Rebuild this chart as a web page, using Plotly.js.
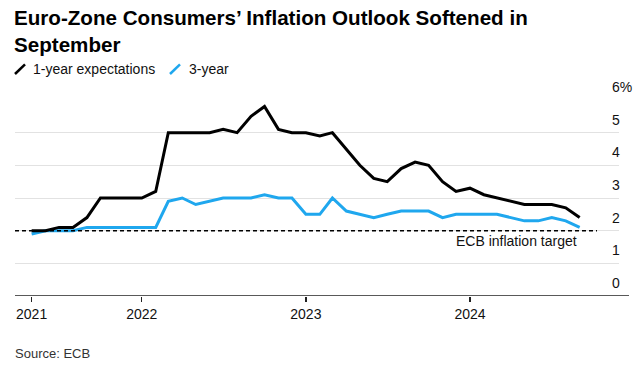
<!DOCTYPE html>
<html>
<head>
<meta charset="utf-8">
<script src="https://cdn.plot.ly/plotly-3.0.1.min.js"></script>
<style>html,body{margin:0;padding:0;background:#fff}#chart{width:642px;height:370px}</style>
</head>
<body>
<div id="chart"></div>
<script>
const months = [
  '2021-05-01','2021-06-01','2021-07-01','2021-08-01','2021-09-01','2021-10-01','2021-11-01','2021-12-01',
  '2022-01-01','2022-02-01','2022-03-01','2022-04-01','2022-05-01','2022-06-01','2022-07-01','2022-08-01',
  '2022-09-01','2022-10-01','2022-11-01','2022-12-01',
  '2023-01-01','2023-02-01','2023-03-01','2023-04-01','2023-05-01','2023-06-01','2023-07-01','2023-08-01',
  '2023-09-01','2023-10-01','2023-11-01','2023-12-01',
  '2024-01-01','2024-02-01','2024-03-01','2024-04-01','2024-05-01','2024-06-01','2024-07-01','2024-08-01',
  '2024-09-01'
];
const oneYear = [
  2.0, 2.0, 2.1, 2.1, 2.4, 3.0, 3.0, 3.0,
  3.0, 3.2, 5.0, 5.0, 5.0, 5.0, 5.1, 5.0,
  5.5, 5.8, 5.1, 5.0,
  5.0, 4.9, 5.0, 4.5, 4.0, 3.6, 3.5, 3.9,
  4.1, 4.0, 3.5, 3.2,
  3.3, 3.1, 3.0, 2.9, 2.8, 2.8, 2.8, 2.7,
  2.4
];
const threeYear = [
  1.9, 2.0, 2.0, 2.0, 2.1, 2.1, 2.1, 2.1,
  2.1, 2.1, 2.9, 3.0, 2.8, 2.9, 3.0, 3.0,
  3.0, 3.1, 3.0, 3.0,
  2.5, 2.5, 3.0, 2.6, 2.5, 2.4, 2.5, 2.6,
  2.6, 2.6, 2.4, 2.5,
  2.5, 2.5, 2.5, 2.4, 2.3, 2.3, 2.4, 2.3,
  2.1
];
const ecbTarget = 2;
const seriesNames = ['1-year expectations', '3-year'];
const xTickVals = ['2021-05-01', '2022-01-01', '2023-01-01', '2024-01-01'];
const xTickText = ['2021', '2022', '2023', '2024'];
const yTickVals = [0, 1, 2, 3, 4, 5, 6];
const yTickText = ['0', '1', '2', '3', '4', '5', '6%'];
const titleText = 'Euro-Zone Consumers\u2019 Inflation Outlook Softened in<br>September';
const sourceText = 'Source: ECB';
const targetLabel = 'ECB inflation target';

const BLACK = '#000000';
const BLUE = '#1fa7ee';
const FONT = 'Liberation Sans, Arial, sans-serif';

const traces = [
  {x: months, y: threeYear, name: seriesNames[1], type: 'scatter', mode: 'lines',
   line: {color: BLUE, width: 3}, showlegend: false},
  {x: months, y: oneYear, name: seriesNames[0], type: 'scatter', mode: 'lines',
   line: {color: BLACK, width: 3}, showlegend: false}
];

const W = 642, H = 370, L = 15, R = 23, T = 100, B = 74;
const pw = W - L - R, ph = H - T - B;
const px = v => (v - L) / pw;
const py = v => (H - B - v) / ph;

const layout = {
  width: W, height: H,
  margin: {l: L, r: R, t: T, b: B, pad: 0},
  paper_bgcolor: '#fff', plot_bgcolor: '#fff',
  font: {family: FONT, size: 14, color: '#111'},
  title: {
    text: '<b>' + titleText + '</b>',
    font: {family: FONT, size: 20.6, color: '#000'},
    xref: 'container', yref: 'container',
    x: 14 / W, xanchor: 'left',
    y: 1 - 8 / H, yanchor: 'top',
    pad: {t: 17}
  },
  xaxis: {
    type: 'date',
    range: ['2021-03-25', '2024-11-27 12:00'],
    tickvals: xTickVals, ticktext: xTickText,
    ticks: 'outside', ticklen: 5, tickwidth: 1.3, tickcolor: '#222',
    showgrid: false, showline: false, zeroline: false,
    tickfont: {family: FONT, size: 14, color: '#111'},
    fixedrange: true
  },
  yaxis: {
    range: [0, 6],
    tickvals: yTickVals, ticktext: yTickText,
    side: 'right', anchor: 'free', position: px(611),
    ticks: '', showline: false, zeroline: false,
    showgrid: true, gridcolor: '#e2e2e2', gridwidth: 1,
    ticklabelposition: 'outside',
    ticklabelshift: -13,
    tickfont: {family: FONT, size: 14, color: '#111'},
    fixedrange: true
  },
  shapes: [
    {type: 'line', xref: 'paper', yref: 'y', x0: 0, x1: px(597), y0: ecbTarget, y1: ecbTarget,
     line: {color: '#000', width: 1.5, dash: '4px,3px'}},
    {type: 'line', xref: 'paper', yref: 'y', x0: 0, x1: px(629), y0: 0, y1: 0,
     line: {color: '#222', width: 1.3}},
    {type: 'line', xref: 'paper', yref: 'paper', x0: px(15), y0: py(74), x1: px(25), y1: py(64.3),
     line: {color: BLACK, width: 2.5}},
    {type: 'line', xref: 'paper', yref: 'paper', x0: px(170), y0: py(74), x1: px(180), y1: py(64.3),
     line: {color: BLUE, width: 2.5}}
  ],
  annotations: [
    {text: seriesNames[0], xref: 'paper', yref: 'paper', x: px(31), y: py(69),
     xanchor: 'left', yanchor: 'middle', showarrow: false,
     font: {family: FONT, size: 14, color: '#111'}},
    {text: seriesNames[1], xref: 'paper', yref: 'paper', x: px(187), y: py(69),
     xanchor: 'left', yanchor: 'middle', showarrow: false,
     font: {family: FONT, size: 14, color: '#111'}},
    {text: targetLabel, xref: 'paper', yref: 'y', x: px(579), y: ecbTarget,
     xanchor: 'right', yanchor: 'top', showarrow: false,
     font: {family: FONT, size: 14, color: '#111'}},
    {text: sourceText, xref: 'paper', yref: 'paper', x: px(13), y: py(353.7),
     xanchor: 'left', yanchor: 'middle', showarrow: false,
     font: {family: FONT, size: 13, color: '#333'}}
  ]
};

Plotly.newPlot('chart', traces, layout, {displayModeBar: false, staticPlot: true});
</script>
</body>
</html>
